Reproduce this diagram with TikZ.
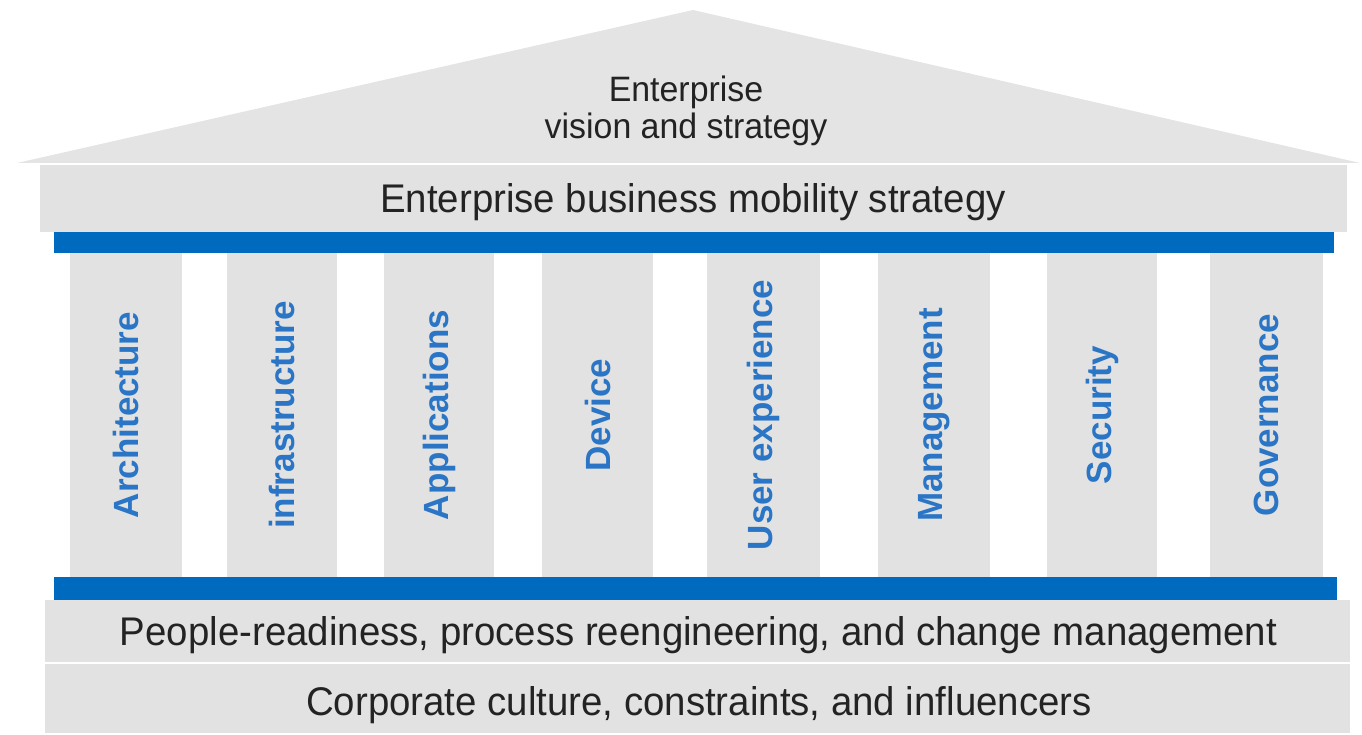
\documentclass[tikz,border=0pt]{standalone}
\usepackage{fontspec}
\setmainfont{Liberation Sans}
\newfontfamily\narrowsans[FakeStretch=0.96]{Liberation Sans}
\definecolor{pgray}{RGB}{226,226,226}
\definecolor{rgray}{RGB}{228,228,228}
\definecolor{pblue}{RGB}{0,107,190}
\definecolor{ptext}{RGB}{35,35,35}
\definecolor{ctext}{RGB}{42,117,197}
\begin{document}
\begin{tikzpicture}[x=1pt,y=-1pt,
  slab/.style={fill=pgray,draw=none,inner sep=0pt,outer sep=0pt},
  bluebar/.style={fill=pblue,draw=none,inner sep=0pt,outer sep=0pt},
  lbl/.style={font=\narrowsans\fontsize{40}{46}\selectfont,text=ptext,anchor=base,inner sep=0pt},
  rooflbl/.style={font=\narrowsans\fontsize{35.3}{40}\selectfont,text=ptext,anchor=base,inner sep=0pt},
  pillar/.style={slab,minimum height=324pt},
  pillarlbl/.style={font=\bfseries\fontsize{35}{40}\selectfont,text=ctext,rotate=90,inner sep=0pt}]
\useasboundingbox (0,0) rectangle (1362,735);
% roof
\coordinate (rl) at (17,163);
\coordinate (apex) at (693,10);
\coordinate (rr) at (1360,163);
\fill[rgray] (rl) -- (apex) -- (rr) -- cycle;
\node[rooflbl] (roof1) at (686,102) {Enterprise};
\node[rooflbl] (roof2) at (686,139) {vision and strategy};
% entablature
\node[slab,minimum width=1307pt,minimum height=67pt] (band) at (693.5,198.5) {};
\node[lbl] (bandt) at (693,213) {Enterprise business mobility strategy};
\node[bluebar,minimum width=1280pt,minimum height=21pt] (topbar) at (694,242.5) {};
% pillars
\foreach \cx/\w/\t [count=\i] in {126/112/Architecture,282/110/infrastructure,439/110/Applications,597.5/111/Device,763.5/113/User experience,934/112/Management,1102/110/Security,1266.5/113/Governance}{
  \node[pillar,minimum width=\w pt] (p\i) at (\cx,415) {};
  \node[pillarlbl] (pl\i) at (p\i.center) {\t};
}
% base
\node[bluebar,minimum width=1283pt,minimum height=23pt] (botbar) at (695.5,588.5) {};
\node[slab,minimum width=1305pt,minimum height=62pt] (people) at (697.5,631) {};
\node[lbl] (peoplet) at (698.5,645) {People-readiness, process reengineering, and change management};
\node[slab,minimum width=1305pt,minimum height=69pt] (corp) at (697.5,698.5) {};
\node[lbl] (corpt) at (699,715) {Corporate culture, constraints, and influencers};
\end{tikzpicture}
\end{document}
